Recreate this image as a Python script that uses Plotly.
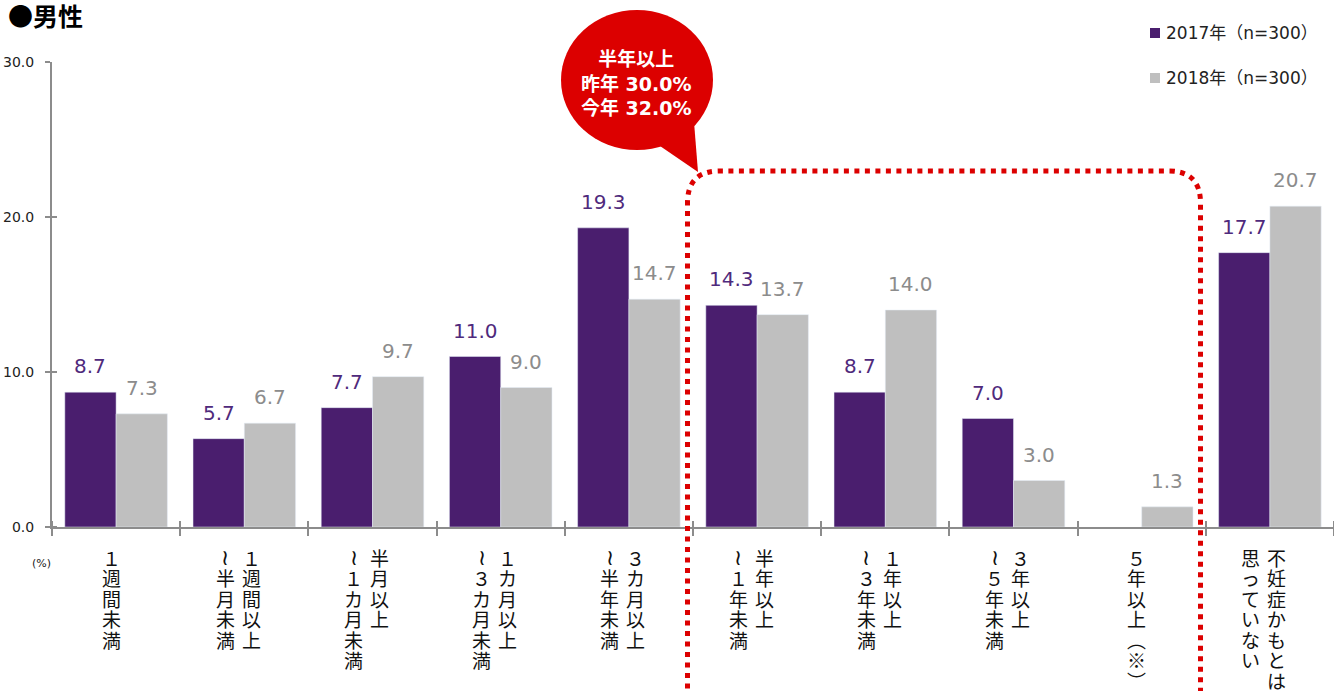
import plotly.graph_objects as go

# ---------------- data ----------------
categories = [
    "1週間未満", "1週間以上～半月未満", "半月以上～1カ月未満", "1カ月以上～3カ月未満",
    "3カ月以上～半年未満", "半年以上～1年未満", "1年以上～3年未満", "3年以上～5年未満",
    "5年以上（※）", "不妊症かもとは思っていない",
]
# vertical-writing label columns (right column first)
label_columns = [
    ["１週間未満"],
    ["１週間以上", "≀半月未満"],
    ["半月以上", "≀１カ月未満"],
    ["１カ月以上", "≀３カ月未満"],
    ["３カ月以上", "≀半年未満"],
    ["半年以上", "≀１年未満"],
    ["１年以上", "≀３年未満"],
    ["３年以上", "≀５年未満"],
    ["５年以上︵※︶"],
    ["不妊症かもとは", "思っていない"],
]
values_2017 = [8.7, 5.7, 7.7, 11.0, 19.3, 14.3, 8.7, 7.0, None, 17.7]
values_2018 = [7.3, 6.7, 9.7, 9.0, 14.7, 13.7, 14.0, 3.0, 1.3, 20.7]
series_names = ["2017年（n=300）", "2018年（n=300）"]
y_ticks = [0, 10, 20, 30]
y_tick_labels = ["0.0", "10.0", "20.0", "30.0"]
title_text = "●男性"
unit_text = "(%)"
callout_lines = ["半年以上", "昨年 30.0%", "今年 32.0%"]

# ---------------- style ----------------
W, H = 1334, 691
L, R, T, B = 52, 0, 62, 164
PW, PH = W - L - R, H - T - B
PURPLE = "#4a1e6e"
PURPLE_TXT = "#4f2a7c"
GRAY = "#bfbfbf"
GRAY_TXT = "#8c8c8c"
AXIS = "#8c8c8c"
RED = "#dc0000"
NUM_FONT = "DejaVu Sans, Noto Sans CJK JP"
JP_FONT = "Noto Sans CJK JP, DejaVu Sans"


def X(px):
    return (px - L) / PW


def Y(py):
    return (H - B - py) / PH


x = list(range(len(categories)))
fig = go.Figure()
fig.add_trace(go.Bar(x=x, y=values_2017, name=series_names[0], marker_color=PURPLE,
                     hovertext=categories))
fig.add_trace(go.Bar(x=x, y=values_2018, name=series_names[1], marker_color=GRAY,
                     hovertext=categories))

ann = []
# value labels
for vals, off, col in ((values_2017, -0.2, PURPLE_TXT), (values_2018, 0.2, GRAY_TXT)):
    for i, v in enumerate(vals):
        if v is None:
            continue
        ann.append(dict(x=i + off, y=v, xref="x", yref="y", text=f"{v:.1f}",
                        showarrow=False, yanchor="bottom", yshift=12,
                        font=dict(family=NUM_FONT, size=20, color=col)))

# vertical category labels, one character per annotation
for i, cols in enumerate(label_columns):
    if len(cols) == 1:
        shifts = [-5]
    else:
        shifts = [7, -19]
    for c, s in zip(cols, shifts):
        for k, ch in enumerate(c):
            if ch == "≀":
                f = dict(family="DejaVu Sans", size=22, color="#111111")
            else:
                f = dict(family=JP_FONT, size=19, color="#111111")
            ann.append(dict(x=i, xref="x", xshift=s, y=Y(557 + k * 20.5), yref="paper",
                            text=ch, showarrow=False, xanchor="center", yanchor="middle",
                            font=f))

# unit label
ann.append(dict(x=X(41), y=Y(563), xref="paper", yref="paper", text=unit_text,
                showarrow=False, xanchor="center", yanchor="middle",
                font=dict(family=NUM_FONT, size=11, color="#222222")))
# title
ann.append(dict(x=X(6), y=Y(15), xref="paper", yref="paper", text=f"<b>{title_text}</b>",
                showarrow=False, xanchor="left", yanchor="middle",
                font=dict(family=JP_FONT, size=25, color="#000000")))
# legend (manual)
shapes = []
for k, (name, col) in enumerate(zip(series_names, (PURPLE, GRAY))):
    cy = 33 + 45 * k
    shapes.append(dict(type="rect", xref="paper", yref="paper", x0=X(1150), x1=X(1160),
                       y0=Y(cy - 5), y1=Y(cy + 5), fillcolor=col, line_width=0))
    ann.append(dict(x=X(1164), y=Y(cy), xref="paper", yref="paper", text=name,
                    showarrow=False, xanchor="left", yanchor="middle",
                    font=dict(family=NUM_FONT, size=17, color="#222222")))

# callout bubble
shapes.append(dict(type="circle", xref="paper", yref="paper", x0=X(561), x1=X(713),
                   y0=Y(150), y1=Y(10), fillcolor=RED, line_width=0, layer="above"))
tail = f"M {X(660)},{Y(146)} L {X(694)},{Y(122)} L {X(698)},{Y(172)} Z"
shapes.append(dict(type="path", xref="paper", yref="paper", path=tail, fillcolor=RED,
                   line_width=0, layer="above"))
ann.append(dict(x=X(636), y=Y(83), xref="paper", yref="paper",
                text="<br>".join(f"<b>{t}</b>" for t in callout_lines),
                showarrow=False, xanchor="center", yanchor="middle",
                font=dict(family=NUM_FONT, size=19, color="#ffffff")))

# dotted rounded bracket
lft, rgt, top, bot, r = 687.5, 1200.5, 171, 720, 32
path = (f"M {X(lft)},{Y(bot)} L {X(lft)},{Y(top + r)} Q {X(lft)},{Y(top)} {X(lft + r)},{Y(top)} "
        f"L {X(rgt - r)},{Y(top)} Q {X(rgt)},{Y(top)} {X(rgt)},{Y(top + r)} L {X(rgt)},{Y(bot)}")
shapes.append(dict(type="path", xref="paper", yref="paper", path=path,
                   line=dict(color=RED, width=5, dash="5px,5.5px"), layer="above"))

bounds = [i - 0.5 for i in range(len(categories) + 1)]
fig.update_layout(
    width=W, height=H, margin=dict(l=L, r=R, t=T, b=B, pad=0),
    paper_bgcolor="white", plot_bgcolor="white",
    barmode="group", bargap=0.2, bargroupgap=0, showlegend=False,
    annotations=ann, shapes=shapes,
    xaxis=dict(range=[-0.5, len(categories) - 0.5], tickmode="array", tickvals=bounds,
               showticklabels=False, ticks="outside", ticklen=7, tickwidth=1.5,
               tickcolor=AXIS, showline=True, linecolor=AXIS, linewidth=2,
               showgrid=False, zeroline=False,
               minor=dict(tickvals=[b + 0.0005 for b in bounds], ticks="inside",
                          ticklen=6, tickwidth=1.5, tickcolor=AXIS, showgrid=False)),
    yaxis=dict(range=[0, 30], tickmode="array", tickvals=y_ticks, ticktext=y_tick_labels,
               ticks="outside", ticklen=5, tickwidth=1.5, tickcolor=AXIS,
               showline=True, linecolor=AXIS, linewidth=2, showgrid=False, zeroline=False,
               ticklabelstandoff=8,
               tickfont=dict(family=NUM_FONT, size=14, color="#222222"),
               minor=dict(tickvals=[v + 0.005 for v in y_ticks], ticks="inside",
                          ticklen=5, tickwidth=1.5, tickcolor=AXIS, showgrid=False)),
)

fig.write_html("out.html", config={"displayModeBar": False},
               post_script="document.body.style.margin='0';")
